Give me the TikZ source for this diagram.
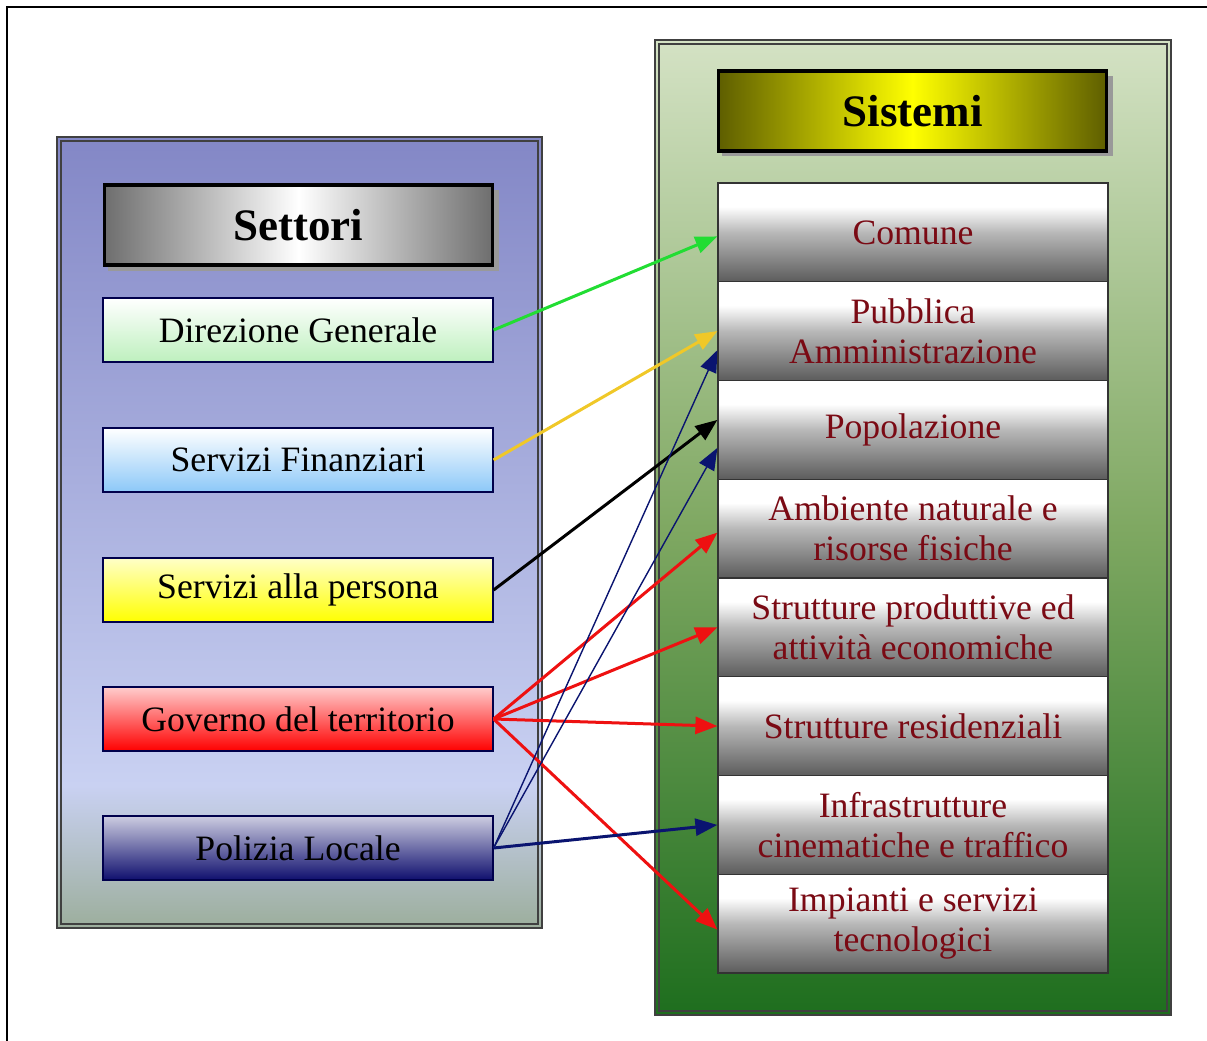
\documentclass[tikz,border=0pt]{standalone}
\usepackage{fontspec}
\setmainfont{Liberation Serif}
\usetikzlibrary{arrows.meta,calc}
\definecolor{lpT}{HTML}{8387C6}
\definecolor{lpM}{HTML}{C9D1F2}
\definecolor{lpB}{HTML}{9CAE9C}
\definecolor{rpT}{HTML}{D4E2C4}
\definecolor{rpM}{HTML}{7FA862}
\definecolor{rpB}{HTML}{1E6E1E}
\definecolor{riB}{HTML}{5C5C5C}
\definecolor{riM}{HTML}{B8B8B8}
\definecolor{darkred}{HTML}{7A0A14}
\definecolor{cgreen}{HTML}{22DD33}
\definecolor{cyellow}{HTML}{F0C828}
\definecolor{cred}{HTML}{EE1111}
\definecolor{cnavy}{HTML}{0A1470}
\definecolor{olive}{HTML}{5E5E00}
\definecolor{hgray}{HTML}{6E6E6E}
\pgfdeclareverticalshading{lpanel}{100bp}{color(0bp)=(lpB); color(25bp)=(lpB); color(34bp)=(lpM); color(75bp)=(lpT); color(100bp)=(lpT)}
\pgfdeclareverticalshading{rpanel}{100bp}{color(0bp)=(rpB); color(25bp)=(rpB); color(50bp)=(rpM); color(75bp)=(rpT); color(100bp)=(rpT)}
\pgfdeclareverticalshading{ritem}{100bp}{color(0bp)=(riB); color(25bp)=(riB); color(50bp)=(riM); color(63bp)=(white); color(100bp)=(white)}
\begin{document}
\begin{tikzpicture}[x=1pt,y=-1pt,
  lbox/.style={draw=black!70!blue, line width=1.2pt, minimum width=390pt, minimum height=64pt, inner sep=0pt, font=\fontsize{35.7}{40}\selectfont},
  rbox/.style={draw=black!80, line width=1.2pt, shading=ritem, minimum width=390pt, minimum height=98.75pt, inner sep=0pt, text=darkred, align=center, font=\fontsize{35.7}{40}\selectfont},
  hdr/.style={draw=black, line width=3.5pt, minimum width=388pt, minimum height=80pt, inner sep=0pt, font=\fontsize{45}{50}\selectfont\bfseries},
  conn/.style={line width=3pt, -{Triangle[length=22pt,width=17pt]}},
  thinconn/.style={line width=1.4pt, -{Triangle[length=22pt,width=17pt]}}
]
\useasboundingbox (0,0) rectangle (1207,1041);
\fill[white] (0,0) rectangle (1207,1041);
% outer frame (left and top edges)
\draw[line width=2.5pt] (7,1045) -- (7,7) -- (1210,7);
% left panel
\shade[shading=lpanel] (57,137) rectangle (542,928);
\draw[line width=1.4pt, black!75] (57,137) rectangle (542,928);
\draw[line width=1.2pt, black!75] (61,141) rectangle (538,924);
% right panel
\shade[shading=rpanel] (655,40) rectangle (1171,1015);
\draw[line width=1.4pt, black!75] (655,40) rectangle (1171,1015);
\draw[line width=1.2pt, black!75] (659,44) rectangle (1167,1011);
% header shadows
\fill[black!40] (108,190) rectangle (499,271);
\fill[black!40] (722,76) rectangle (1113,156);
% headers
\node[hdr, left color=hgray, right color=hgray, middle color=white] (settori) at (298.5,225) {Settori};
\node[hdr, left color=olive, right color=olive, middle color=yellow] (sistemi) at (912.5,111) {Sistemi};
% left items
\node[lbox, top color=white, bottom color={rgb,255:red,190;green,240;blue,190}] (dir) at (298,330) {Direzione Generale};
\node[lbox, top color=white, bottom color={rgb,255:red,140;green,200;blue,248}] (fin) at (298,460) {Servizi Finanziari};
\node[lbox, top color={rgb,255:red,255;green,255;blue,200}, bottom color=yellow] (pers) at (298,590) {Servizi alla persona};
\node[lbox, top color={rgb,255:red,255;green,205;blue,205}, bottom color={rgb,255:red,255;green,0;blue,0}] (gov) at (298,719) {Governo del territorio};
\node[lbox, top color={rgb,255:red,205;green,205;blue,225}, bottom color={rgb,255:red,15;green,15;blue,110}] (pol) at (298,848) {Polizia Locale};
% right items
\node[rbox] (comune) at (913,232.4) {Comune};
\node[rbox] (pubb) at (913,331.1) {Pubblica\\Amministrazione};
\node[rbox] (popol) at (913,429.9) {Popolazione};
\node[rbox] (amb) at (913,528.6) {Ambiente naturale e\\risorse fisiche};
\node[rbox] (prod) at (913,627.4) {Strutture produttive ed\\attività economiche};
\node[rbox] (resid) at (913,726.1) {Strutture residenziali};
\node[rbox] (infra) at (913,824.9) {Infrastrutture\\cinematiche e traffico};
\node[rbox] (impi) at (913,923.6) {Impianti e servizi\\tecnologici};
% connectors
\draw[conn, cgreen] (dir.east) -- ([yshift=-4pt]comune.west);
\draw[conn, cyellow] (fin.east) -- (pubb.west);
\draw[conn, black] (pers.east) -- ([yshift=10pt]popol.west);
\draw[conn, cred] (gov.east) -- ([yshift=-4pt]amb.west);
\draw[conn, cred] (gov.east) -- (prod.west);
\draw[conn, cred] (gov.east) -- (resid.west);
\draw[conn, cred] (gov.east) -- ([yshift=-6pt]impi.west);
\draw[thinconn, cnavy] (pol.east) -- ([yshift=-19pt]pubb.west);
\draw[thinconn, cnavy] (pol.east) -- ([yshift=-18pt]popol.west);
\draw[conn, cnavy] (pol.east) -- (infra.west);
\end{tikzpicture}
\end{document}
